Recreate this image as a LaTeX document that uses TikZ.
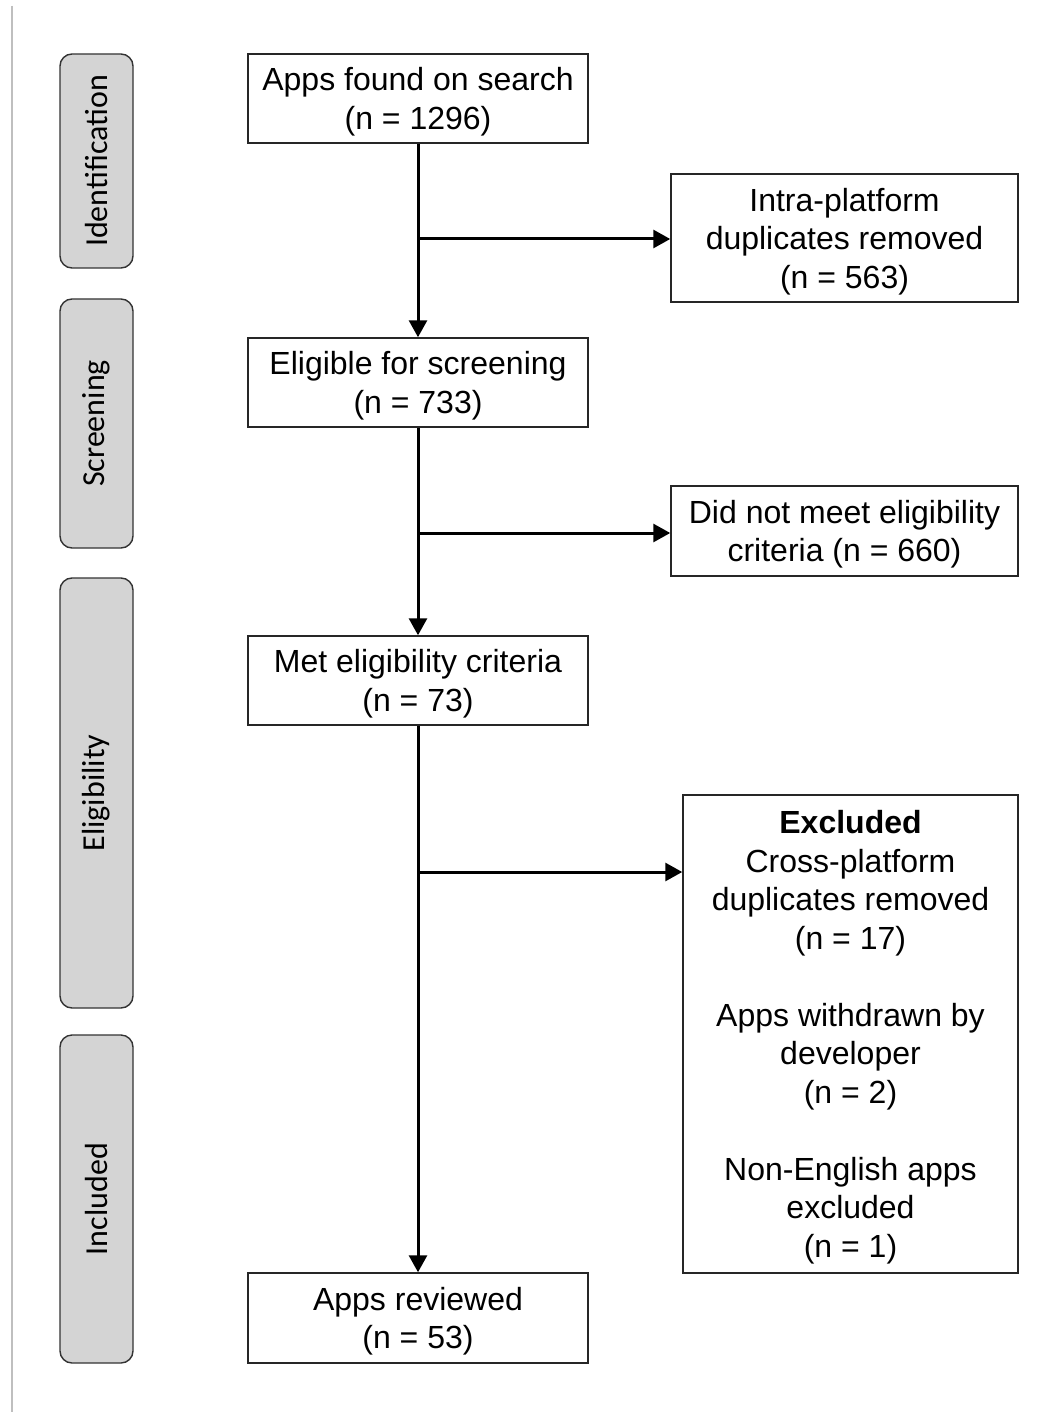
\documentclass[tikz,border=0pt]{standalone}
\usepackage{fontspec}
\setmainfont{Liberation Sans}
\newfontfamily\stagefont{Carlito}
\usetikzlibrary{arrows.meta, calc}

\tikzset{
    stagebox/.style={draw=black!80, line width=1.4pt, fill=black!17, rounded corners=12pt,
        rotate=90, minimum height=73pt, inner sep=0pt, font=\stagefont\fontsize{32}{38}\selectfont},
    flowbox/.style={draw=black!85, line width=1.5pt, fill=white, align=center, inner sep=0pt,
        font=\fontsize{32}{38.5}\selectfont, text depth=0pt},
    flowarrow/.style={line width=3pt, -{Triangle[length=17pt, width=18pt]}}
}

\begin{document}
\begin{tikzpicture}[x=1pt, y=-1pt]
    \useasboundingbox (0,0) rectangle (1056,1412);
    \fill[white] (0,0) rectangle (1056,1412);
    \draw[black!25, line width=1.5pt] (12,6) -- (12,1412);

    % Stage labels on the left
    \node[stagebox, minimum width=214pt] (ident) at (96.5,161) {Identification};
    \node[stagebox, minimum width=249pt] (screen) at (96.5,423.5) {Screening};
    \node[stagebox, minimum width=430pt] (elig) at (96.5,793) {Eligibility};
    \node[stagebox, minimum width=328pt] (incl) at (96.5,1199) {Included};

    % Main flow boxes
    \node[flowbox, minimum width=340pt, minimum height=89pt] (found) at (418,98.5)
        {Apps found on search\\(n = 1296)};
    \node[flowbox, minimum width=340pt, minimum height=89pt] (screened) at (418,382.5)
        {Eligible for screening\\(n = 733)};
    \node[flowbox, minimum width=340pt, minimum height=89pt] (met) at (418,680.5)
        {Met eligibility criteria\\(n = 73)};
    \node[flowbox, minimum width=340pt, minimum height=90pt] (reviewed) at (418,1318)
        {Apps reviewed\\(n = 53)};

    % Side boxes
    \node[flowbox, minimum width=347pt, minimum height=128pt] (intra) at (844.5,238)
        {Intra-platform\\duplicates removed\\(n = 563)};
    \node[flowbox, minimum width=347pt, minimum height=90pt] (notmet) at (844.5,531)
        {Did not meet eligibility\\criteria (n = 660)};
    \node[flowbox, minimum width=335pt, minimum height=478pt] (excl) at (850.5,1034)
        {\textbf{Excluded}\\Cross-platform\\duplicates removed\\(n = 17)\\[38.5pt]
         Apps withdrawn by\\developer\\(n = 2)\\[38.5pt]
         Non-English apps\\excluded\\(n = 1)};

    % Vertical arrows
    \draw[flowarrow] (found) -- (screened);
    \draw[flowarrow] (screened) -- (met);
    \draw[flowarrow] (met) -- (reviewed);

    % Branches to the right
    \coordinate (j1) at (418,239);
    \coordinate (j2) at (418,533);
    \coordinate (j3) at (418,872);
    \draw[flowarrow] (j1) -- (j1 -| intra.west);
    \draw[flowarrow] (j2) -- (j2 -| notmet.west);
    \draw[flowarrow] (j3) -- (j3 -| excl.west);
\end{tikzpicture}
\end{document}
